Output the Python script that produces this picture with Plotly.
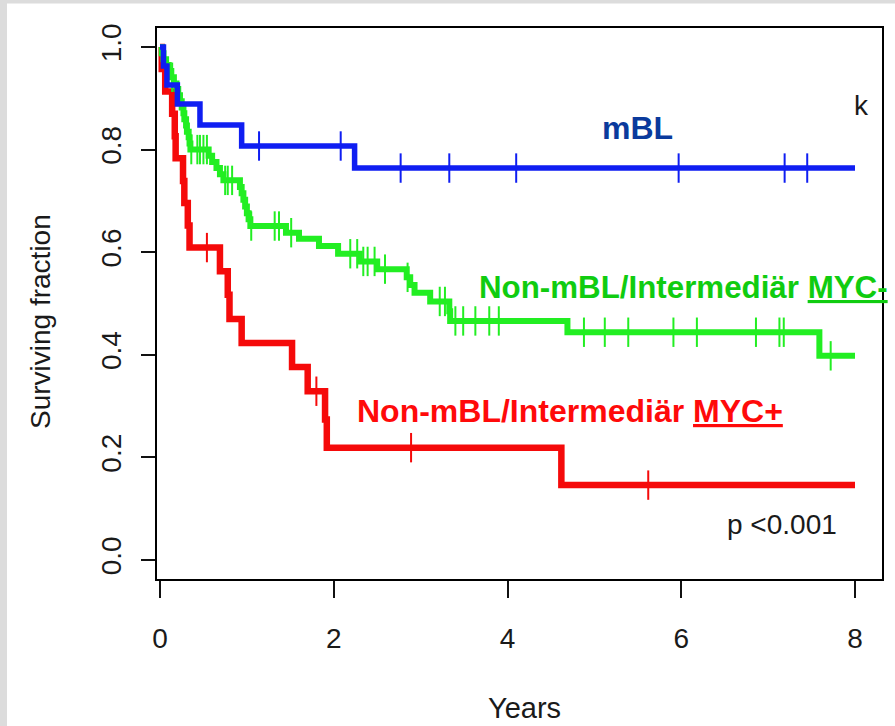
import plotly.graph_objects as go

# ---- Kaplan-Meier estimates (time in years, surviving fraction after each event) ----
mbl_time = [0.0, 0.04, 0.08, 0.20, 0.46, 0.94, 2.24]
mbl_surv = [1.0, 0.963, 0.926, 0.889, 0.848, 0.807, 0.764]
mbl_censored = [1.14, 2.08, 2.77, 3.33, 4.10, 5.97, 7.19, 7.45]

neg_time = [0.0, 0.02, 0.04, 0.07, 0.10, 0.13, 0.16, 0.19, 0.21, 0.23, 0.25, 0.27,
            0.28, 0.30, 0.31, 0.33, 0.34, 0.35, 0.56, 0.60, 0.65, 0.69, 0.73, 0.92,
            0.94, 0.96, 0.98, 1.00, 1.02, 1.04, 1.45, 1.60, 1.83, 2.05, 2.30, 2.50,
            2.84, 2.88, 2.93, 3.11, 3.33, 3.34, 4.69, 7.59]
neg_surv = [1.0, 0.988, 0.976, 0.965, 0.953, 0.941, 0.929, 0.918, 0.906, 0.894, 0.882, 0.871,
            0.859, 0.847, 0.835, 0.824, 0.812, 0.800, 0.788, 0.776, 0.764, 0.752, 0.740, 0.727,
            0.715, 0.702, 0.689, 0.676, 0.664, 0.651, 0.638, 0.626, 0.612, 0.597, 0.582, 0.567,
            0.551, 0.536, 0.521, 0.504, 0.485, 0.466, 0.444, 0.398]
neg_censored = [0.14, 0.36, 0.43, 0.46, 0.50, 0.54, 0.75, 0.78, 0.83, 1.05, 1.32, 1.37,
                1.51, 2.19, 2.27, 2.34, 2.39, 2.47, 2.59, 2.85, 3.22, 3.28, 3.40, 3.49,
                3.63, 3.79, 3.90, 4.88, 5.12, 5.39, 5.91, 6.18, 6.86, 7.13, 7.18, 7.72]

pos_time = [0.0, 0.02, 0.06, 0.14, 0.17, 0.18, 0.265, 0.28, 0.32, 0.34, 0.69, 0.78,
            0.80, 0.94, 1.52, 1.70, 1.90, 1.92, 4.62]
pos_surv = [1.0, 0.957, 0.913, 0.870, 0.826, 0.783, 0.739, 0.696, 0.652, 0.609, 0.563, 0.517,
            0.470, 0.423, 0.376, 0.329, 0.274, 0.219, 0.146]
pos_censored = [0.54, 1.80, 2.89, 5.62]

follow_up_end = 8.0
x_ticks = [0, 2, 4, 6, 8]
y_ticks = [0.0, 0.2, 0.4, 0.6, 0.8, 1.0]

BLUE, GREEN, RED = "#0f1ef2", "#22ee22", "#f50a0a"
FONT = "Liberation Sans, Arial, Helvetica, sans-serif"

W, H = 895, 726
M_L, M_R, M_T, M_B = 157, 13, 28, 147
PW, PH = W - M_L - M_R, H - M_T - M_B


def px_x(px):
    return (px - M_L) / PW


def px_y(py):
    return (H - M_B - py) / PH


def surv_at(times, surv, t):
    s = surv[0]
    for ti, si in zip(times, surv):
        if ti <= t:
            s = si
    return s


fig = go.Figure()

groups = [
    (pos_time, pos_surv, pos_censored, RED, 6.5),
    (neg_time, neg_surv, neg_censored, GREEN, 6),
    (mbl_time, mbl_surv, mbl_censored, BLUE, 5.5),
]
for times, surv, cens, color, lw in groups:
    fig.add_trace(go.Scatter(
        x=times + [follow_up_end], y=surv + [surv[-1]],
        mode="lines", line=dict(color=color, width=lw, shape="hv"),
        hoverinfo="skip", showlegend=False))
    fig.add_trace(go.Scatter(
        x=cens, y=[surv_at(times, surv, t) for t in cens],
        mode="markers",
        marker=dict(symbol="line-ns", size=21, line=dict(color=color, width=2)),
        hoverinfo="skip", showlegend=False))

axis_common = dict(
    showgrid=False, zeroline=False, showline=True, mirror=True,
    linecolor="black", linewidth=2, ticks="outside", tickcolor="#111",
    tickwidth=2, tickfont=dict(family=FONT, size=28, color="#1a1a1a"),
)
fig.update_xaxes(range=[(M_L - 160) / 86.875, (W - M_R - 160) / 86.875],
                 tickvals=x_ticks, ticktext=[str(v) for v in x_ticks],
                 ticklen=17, ticklabelstandoff=16, **axis_common)
fig.update_yaxes(range=[-0.037, 1.037], tickvals=y_ticks,
                 ticktext=[f"{v:.1f}" for v in y_ticks], tickangle=-90,
                 ticklen=14, ticklabelstandoff=9, **axis_common)

annotations = [
    dict(text="<b>mBL</b>", x=5.50, y=0.842, xanchor="center",
         font=dict(size=32, color="#0a3a9c")),
    dict(text="<b>Non-mBL/Intermediär <u>MYC-</u></b>", x=3.65, y=0.532, xanchor="left",
         font=dict(size=31.3, color="#10cc10")),
    dict(text="<b>Non-mBL/Intermediär <u>MYC+</u></b>", x=2.25, y=0.290, xanchor="left",
         font=dict(size=32, color="#ff0a0a")),
    dict(text="p <0.001", x=6.50, y=0.070, xanchor="left",
         font=dict(size=28, color="#1a1a1a")),
    dict(text="k", x=7.96, y=0.885, xanchor="left",
         font=dict(size=28, color="#1a1a1a")),
]
for a in annotations:
    a.update(xref="x", yref="y", yanchor="middle", showarrow=False)
    a["font"]["family"] = FONT
    fig.add_annotation(**a)

# axis titles
fig.add_annotation(text="Years", xref="paper", yref="paper", x=px_x(524), y=px_y(708),
                   xanchor="center", yanchor="middle", showarrow=False,
                   font=dict(family=FONT, size=29, color="#1a1a1a"))
fig.add_annotation(text="Surviving fraction", xref="paper", yref="paper",
                   x=px_x(40), y=px_y(322), textangle=-90,
                   xanchor="center", yanchor="middle", showarrow=False,
                   font=dict(family=FONT, size=28, color="#1a1a1a"))

# light grey frame strips on the left and top edges
frame = "#dcdcdc"
fig.add_shape(type="rect", xref="paper", yref="paper", x0=px_x(0), x1=px_x(7),
              y0=px_y(H), y1=px_y(0), fillcolor=frame, line=dict(width=0))
fig.add_shape(type="rect", xref="paper", yref="paper", x0=px_x(0), x1=px_x(W),
              y0=px_y(3.5), y1=px_y(0), fillcolor=frame, line=dict(width=0))

fig.update_layout(
    width=W, height=H,
    margin=dict(l=M_L, r=M_R, t=M_T, b=M_B),
    paper_bgcolor="white", plot_bgcolor="white",
    font=dict(family=FONT),
)

fig.write_html("out.html")
